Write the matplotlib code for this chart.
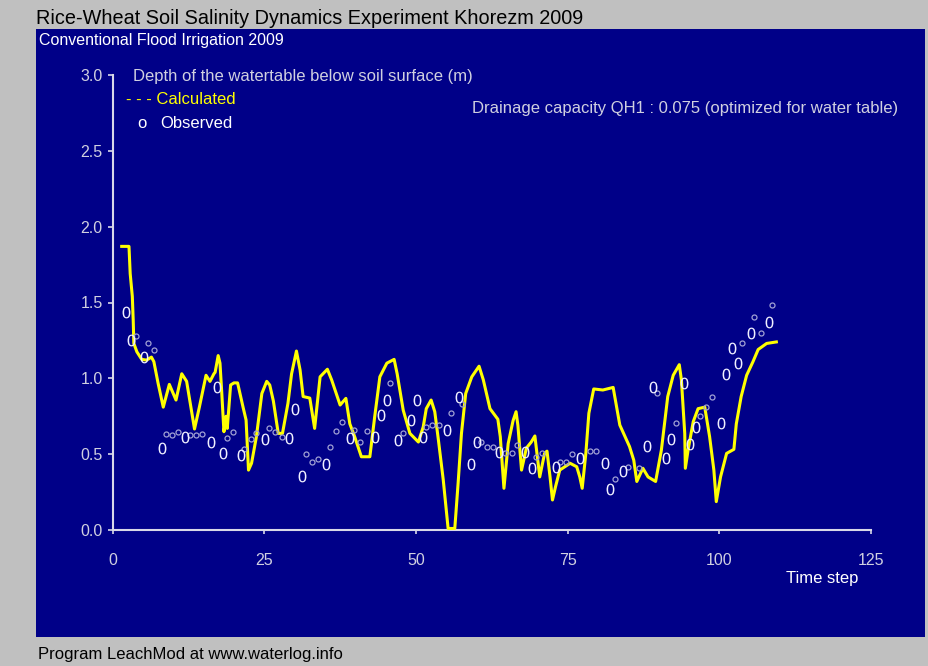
import matplotlib
matplotlib.use("Agg")
import matplotlib.pyplot as plt
from matplotlib.patches import Rectangle

# ---- data -------------------------------------------------------------
calc_t = [1.5, 2.7, 2.9, 3.25, 3.4, 3.5, 4.0, 4.8, 5.6, 6.4, 6.8, 7.5, 8.35, 9.35,
          10.45, 11.4, 12.2, 13.5, 14.3, 15.4, 16.05, 16.7, 16.9, 17.4, 17.7, 17.97,
          18.35, 18.7, 18.9, 19.45, 20.0, 20.6, 21.5, 22.0, 22.4, 22.9, 23.7, 24.6,
          25.4, 25.9, 26.5, 27.3, 28.0, 28.9, 29.5, 30.3, 30.9, 31.4, 32.5, 33.3,
          34.2, 35.4, 36.1, 37.5, 38.45, 39.1, 39.9, 41.0, 42.4, 43.2, 44.05, 45.2,
          46.4, 46.9, 47.9, 49.0, 50.4, 51.2, 51.7, 52.5, 53.1, 53.7, 54.5, 55.3,
          56.4, 56.95, 57.5, 58.2, 59.2, 60.4, 61.1, 62.2, 63.5, 63.9, 64.5, 65.2,
          66.0, 66.5, 66.8, 67.4, 68.2, 69.0, 69.6, 70.0, 70.4, 71.2, 71.6, 72.1,
          72.5, 73.0, 73.7, 75.4, 76.5, 77.0, 77.4, 78.0, 78.5, 79.3, 80.8, 82.5,
          83.6, 85.2, 85.9, 86.4, 87.4, 88.25, 89.5, 90.45, 91.5, 92.4, 93.4, 93.75,
          94.3, 94.4, 94.85, 95.7, 96.5, 97.6, 98.4, 99.1, 99.5, 100.2, 101.2, 102.4,
          102.8, 103.6, 104.5, 105.55, 106.4, 107.8, 109.4]
calc_depth = [1.87, 1.87, 1.69, 1.54, 1.38, 1.23, 1.175, 1.125, 1.12, 1.14, 1.11, 0.967,
              0.81, 0.96, 0.857, 1.03, 0.98, 0.666, 0.81, 1.02, 0.98, 1.03, 1.04, 1.15,
              1.10, 0.92, 0.648, 0.75, 0.67, 0.956, 0.97, 0.97, 0.81, 0.725, 0.395, 0.44,
              0.615, 0.90, 0.98, 0.956, 0.85, 0.637, 0.637, 0.835, 1.03, 1.18, 1.055,
              0.88, 0.87, 0.67, 1.01, 1.06, 0.99, 0.824, 0.868, 0.70, 0.615, 0.483,
              0.483, 0.747, 1.01, 1.10, 1.125, 1.03, 0.79, 0.637, 0.58, 0.68, 0.80,
              0.857, 0.78, 0.593, 0.33, 0.01, 0.01, 0.31, 0.637, 0.90, 1.01, 1.08, 0.99,
              0.80, 0.73, 0.615, 0.275, 0.57, 0.72, 0.78, 0.69, 0.395, 0.54, 0.58, 0.62,
              0.483, 0.35, 0.505, 0.52, 0.35, 0.198, 0.285, 0.395, 0.44, 0.417, 0.35,
              0.275, 0.505, 0.77, 0.93, 0.923, 0.94, 0.692, 0.55, 0.46, 0.32, 0.407,
              0.35, 0.32, 0.527, 0.88, 1.02, 1.09, 0.99, 0.637, 0.407, 0.527, 0.714,
              0.80, 0.81, 0.615, 0.395, 0.187, 0.35, 0.505, 0.532, 0.70, 0.88, 1.02,
              1.11, 1.19, 1.23, 1.24]

obs_t = [2.15, 3.1, 5.2, 8.2, 12.0, 16.2, 17.15, 18.25, 21.15, 25.1, 29.1, 30.1, 31.15,
         35.15, 39.1, 43.2, 44.2, 45.15, 47.1, 49.2, 50.15, 51.2, 55.1, 57.1, 59.15,
         60.1, 63.7, 68.05, 69.1, 73.05, 77.1, 81.1, 82.05, 84.1, 88.1, 89.1, 91.2,
         92.1, 94.2, 95.1, 96.1, 100.2, 101.05, 102.15, 103.1, 105.2, 108.2]
obs_depth = [1.44, 1.25, 1.14, 0.54, 0.615, 0.58, 0.94, 0.51, 0.494, 0.60, 0.604, 0.795,
             0.356, 0.435, 0.604, 0.615, 0.758, 0.857, 0.593, 0.725, 0.857, 0.61, 0.66,
             0.88, 0.435, 0.578, 0.516, 0.516, 0.41, 0.417, 0.477, 0.44, 0.268, 0.389,
             0.556, 0.94, 0.477, 0.598, 0.967, 0.567, 0.677, 0.703, 1.028, 1.198, 1.10,
             1.30, 1.37]

obs2_t = [3.85, 5.8, 6.8, 8.8, 9.8, 10.8, 12.8, 13.8, 14.8, 18.8, 19.8, 21.7, 22.8, 23.7,
          25.8, 26.75, 27.9, 31.8, 32.8, 33.8, 35.8, 36.8, 37.8, 39.8, 40.8, 41.85,
          45.8, 47.8, 51.7, 52.7, 53.8, 55.75, 57.6, 60.8, 61.7, 62.7, 64.65, 65.75,
          66.7, 69.75, 70.7, 73.7, 74.7, 75.7, 78.75, 79.75, 82.8, 84.9, 86.8, 89.8,
          92.8, 96.8, 97.8, 98.8, 103.75, 105.7, 106.8, 108.75]
obs2_depth = [1.28, 1.235, 1.19, 0.633, 0.625, 0.644, 0.625, 0.625, 0.633, 0.604, 0.644,
              0.534, 0.60, 0.637, 0.675, 0.644, 0.61, 0.50, 0.45, 0.47, 0.55, 0.65, 0.71,
              0.66, 0.58, 0.65, 0.97, 0.64, 0.68, 0.69, 0.69, 0.77, 0.83, 0.58, 0.545,
              0.545, 0.51, 0.51, 0.56, 0.48, 0.505, 0.45, 0.45, 0.50, 0.523, 0.52, 0.334,
              0.413, 0.41, 0.905, 0.703, 0.75, 0.81, 0.875, 1.235, 1.406, 1.30, 1.483]

x_ticks = [0, 25, 50, 75, 100, 125]
y_ticks = [0.0, 0.5, 1.0, 1.5, 2.0, 2.5, 3.0]

# ---- figure -----------------------------------------------------------
W, H = 929, 666
plt.rcParams['font.family'] = ['Liberation Sans', 'DejaVu Sans']
fig = plt.figure(figsize=(W / 100, H / 100), dpi=100, facecolor='#c0c0c0')


def fx(x):
    return x / W


def fy(y):
    return 1 - y / H


NAVY = '#000088'
AXIS_C = '#d8d8e8'
TEXT_C = '#d0d0e0'

fig.patches.append(Rectangle((fx(36), fy(637)), fx(925) - fx(36), fy(29) - fy(637),
                             transform=fig.transFigure, facecolor=NAVY,
                             edgecolor='none', zorder=-5))

ax = fig.add_axes([fx(112.6), fy(530), fx(871) - fx(112.6), fy(75) - fy(530)])
ax.set_zorder(2)
ax.set_facecolor('none')
ax.set_xlim(0, 125)
ax.set_ylim(0, 3)
for s in ('top', 'right'):
    ax.spines[s].set_visible(False)
for s in ('left', 'bottom'):
    ax.spines[s].set_color(AXIS_C)
    ax.spines[s].set_linewidth(1.5)

ax.set_xticks(x_ticks)
ax.set_xticklabels([str(v) for v in x_ticks])
ax.set_yticks(y_ticks)
ax.set_yticklabels([f'{v:.1f}' for v in y_ticks])
ax.tick_params(axis='x', direction='out', length=3, width=1.2, color=AXIS_C,
               labelcolor=TEXT_C, labelsize=11.5, pad=13.5)
ax.tick_params(axis='y', direction='out', length=3.6, width=1.2, color=AXIS_C,
               labelcolor=TEXT_C, labelsize=11.5, pad=3.6)

ax.plot(calc_t, calc_depth, color='#ffff00', lw=2.2, zorder=3, clip_on=False)
ax.plot(obs2_t, obs2_depth, ls='none', marker='o', ms=3.6, mfc='none',
        mec='#a0a0d4', mew=0.9, zorder=4)
ax.plot(obs_t, obs_depth, ls='none', marker='$0$', ms=8.5, color='#f0f0ff',
        mew=0, zorder=5)

# ---- texts ------------------------------------------------------------
fig.text(fx(36), fy(18), 'Rice-Wheat Soil Salinity Dynamics Experiment Khorezm 2009',
         fontsize=14.3, color='black', ha='left', va='center')
fig.text(fx(39), fy(41), 'Conventional Flood Irrigation 2009',
         fontsize=11.5, color='white', ha='left', va='center')
fig.text(fx(133), fy(77), 'Depth of the watertable below soil surface (m)',
         fontsize=12, color=TEXT_C, ha='left', va='center')
fig.text(fx(126), fy(100), '- - - Calculated',
         fontsize=12, color='#ffff00', ha='left', va='center')
fig.text(fx(137), fy(123), 'o', fontsize=12, color='white', ha='left', va='center')
fig.text(fx(160), fy(124), 'Observed', fontsize=12, color='white', ha='left', va='center')
fig.text(fx(898), fy(108), 'Drainage capacity QH1 : 0.075 (optimized for water table)',
         fontsize=12, color=TEXT_C, ha='right', va='center')
fig.text(fx(858), fy(579), 'Time step', fontsize=12, color='white',
         ha='right', va='center')
fig.text(fx(38), fy(655), 'Program LeachMod at www.waterlog.info',
         fontsize=12, color='black', ha='left', va='center')

fig.savefig('out.png', dpi=100, facecolor=fig.get_facecolor())
